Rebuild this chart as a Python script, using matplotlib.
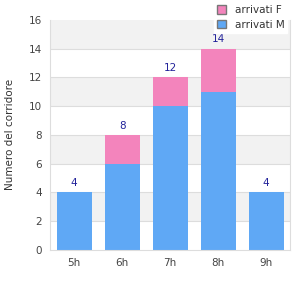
import matplotlib.pyplot as plt
import numpy as np
from matplotlib.patches import Patch

ore = ['5h', '6h', '7h', '8h', '9h']
arrivati_m = [4, 6, 10, 11, 4]
arrivati_f = [0, 2, 2, 3, 0]
totali = [m + f for m, f in zip(arrivati_m, arrivati_f)]

col_m = '#5fa8f5'
col_f = '#f384bc'

fig = plt.figure(figsize=(3, 3), dpi=100)
ax = fig.add_axes([0.167, 0.167, 0.8, 0.767])

# bande alternate
for y0 in range(2, 16, 4):
    ax.axhspan(y0, y0 + 2, color='#f2f2f2', zorder=0, lw=0)
for y in range(2, 16, 2):
    ax.axhline(y, color='#dddddd', lw=0.8, zorder=1)

x = np.arange(len(ore))
ax.bar(x, arrivati_m, width=0.73, color=col_m, zorder=2)
ax.bar(x, arrivati_f, width=0.73, bottom=arrivati_m, color=col_f, zorder=2)
for xi, t in zip(x, totali):
    ax.text(xi, t + 0.3, str(t), ha='center', va='bottom', fontsize=7.5, color='#22229a')

ax.set_xlim(-0.5, 4.5)
ax.set_ylim(0, 16)
ax.set_yticks(range(0, 17, 2))
ax.set_xticks(x)
ax.set_xticklabels(ore)
ax.tick_params(length=0, labelsize=7.5, colors='#444444', pad=6)
for s in ['left', 'bottom', 'right']:
    ax.spines[s].set_color('#dddddd')
ax.spines['top'].set_visible(False)
ax.set_ylabel('Numero del corridore', fontsize=7.5, color='#333333', labelpad=10)

handles = [Patch(facecolor=col_f, edgecolor='#777777', label='arrivati F'),
           Patch(facecolor=col_m, edgecolor='#777777', label='arrivati M')]
leg = fig.legend(handles=handles, loc='upper left', bbox_to_anchor=(0.695, 1.01),
                 fontsize=7.5, frameon=True, fancybox=False, handlelength=0.9,
                 handleheight=0.9, handletextpad=0.8, labelspacing=0.4,
                 borderpad=0.3)
leg.get_frame().set_edgecolor('white')
leg.get_frame().set_alpha(1)
for t in leg.get_texts():
    t.set_color('#333333')

fig.savefig('out.png', dpi=100)
